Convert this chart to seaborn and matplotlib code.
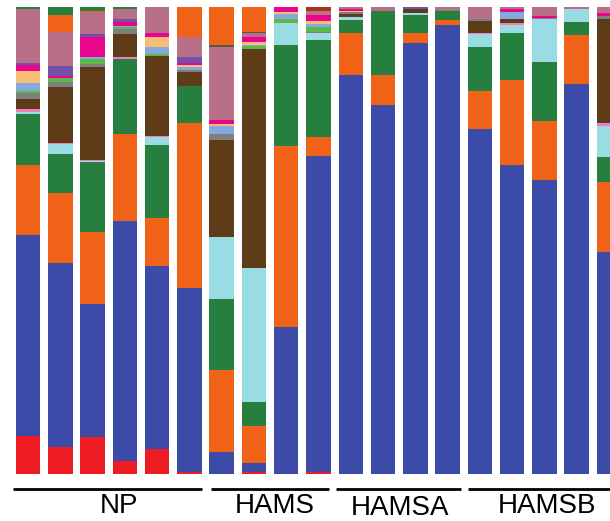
import matplotlib
matplotlib.use("Agg")
import matplotlib.pyplot as plt
import pandas as pd
import seaborn as sns
from matplotlib.transforms import blended_transform_factory

# ---- data -------------------------------------------------------------
samples = ["NP1", "NP2", "NP3", "NP4", "NP5", "NP6",
           "HAMS1", "HAMS2", "HAMS3", "HAMS4",
           "HAMSA1", "HAMSA2", "HAMSA3", "HAMSA4",
           "HAMSB1", "HAMSB2", "HAMSB3", "HAMSB4", "HAMSB5"]
groups = ["NP", "HAMS", "HAMSA", "HAMSB"]
group_sizes = [6, 4, 4, 5]

red     = [8.2, 5.9, 8.0, 2.9, 5.4, 0.6, 0, 0.5, 0, 0.4, 0, 0, 0, 0, 0.1, 0, 0.1, 0, 0]
blue    = [43.0, 39.4, 28.5, 51.1, 39.3, 39.2, 4.8, 1.9, 31.5, 67.7, 85.5, 79.1, 92.3, 96.1, 73.9, 66.1, 63.0, 83.6, 47.5]
orange  = [15.0, 15.0, 15.4, 18.6, 10.3, 35.2, 17.6, 8.0, 38.8, 3.9, 8.9, 6.4, 2.0, 1.1, 8.2, 18.2, 12.5, 10.5, 15.0]
green   = [10.9, 8.4, 14.9, 16.0, 15.6, 7.9, 15.0, 5.1, 21.6, 20.9, 2.8, 13.6, 3.9, 1.9, 9.3, 10.1, 12.7, 2.8, 5.3]
cyan    = [0.4, 2.0, 0.2, 0, 1.6, 0, 13.3, 28.7, 4.6, 1.3, 0.7, 0, 0.5, 0, 2.8, 1.7, 9.2, 2.7, 6.6]
pink    = [0.7, 0.3, 0.4, 0.3, 0.3, 0, 0, 0, 0, 0, 0, 0, 0, 0, 0.2, 0.4, 0, 0, 0.7]
brown   = [2.1, 12.0, 19.9, 4.9, 17.2, 3.0, 20.8, 46.9, 0, 0, 0.7, 0, 0.9, 0, 2.7, 0.9, 0, 0, 22.3]
gray    = [1.3, 1.0, 0.6, 1.1, 0, 0.6, 1.2, 0, 0, 0.3, 0.3, 0.2, 0, 0.3, 0.3, 0, 0.3, 0, 0.5]
ltgreen = [0.4, 0.9, 1.1, 0.4, 0.4, 0, 0.2, 0.6, 0.9, 1.0, 0, 0, 0, 0, 0, 0, 0, 0, 0]
ltblue  = [1.7, 0, 0.4, 0.3, 1.4, 0.6, 1.6, 0.3, 1.1, 0.8, 0, 0, 0, 0, 0, 1.4, 0, 0, 0]
peach   = [2.7, 0, 0, 0, 2.3, 0.4, 0.5, 0.6, 0.5, 0.5, 0.3, 0, 0, 0, 0, 0, 0, 0, 0]
magenta = [1.2, 0.5, 4.3, 0.9, 0.7, 0.3, 0.7, 1.1, 0.9, 1.4, 0.4, 0, 0, 0, 0, 0.7, 0.3, 0, 0.6]
purple  = [0.4, 2.1, 0.6, 0.6, 0, 1.4, 0, 0, 0, 0, 0, 0, 0.3, 0, 0, 0, 0, 0, 0]
mauve   = [11.6, 7.2, 4.7, 2.1, 5.6, 4.2, 15.6, 0.7, 0, 0.9, 0.4, 0.7, 0, 0.5, 2.6, 0.4, 1.9, 0.4, 1.3]
dkgray  = [0, 0, 0, 0, 0, 0, 0.5, 0.4, 0, 0, 0, 0, 0, 0, 0, 0, 0, 0, 0]
orange2 = [0, 3.8, 0.3, 0, 0, 6.4, 8.1, 5.2, 0, 0, 0, 0, 0, 0, 0, 0, 0, 0, 0]
green2  = [0.4, 1.6, 0.7, 0.4, 0, 0, 0, 0, 0, 0, 0, 0, 0, 0, 0, 0, 0, 0, 0]
maroon  = [0, 0, 0, 0, 0, 0, 0, 0, 0, 0.7, 0, 0, 0, 0, 0, 0, 0, 0, 0]

# stacking order, top of bar first (seaborn stacks last hue level at bottom)
series = {
    "maroon": maroon, "green2": green2, "orange2": orange2, "dkgray": dkgray,
    "mauve": mauve, "purple": purple, "magenta": magenta, "peach": peach,
    "ltblue": ltblue, "ltgreen": ltgreen, "gray": gray, "brown": brown,
    "pink": pink, "cyan": cyan, "green": green, "orange": orange,
    "blue": blue, "red": red,
}
colors = {
    "maroon": "#A8321E", "green2": "#267F3E", "orange2": "#EF6218", "dkgray": "#5A5550",
    "mauve": "#B86F88", "purple": "#7251A6", "magenta": "#E9068D", "peach": "#F9BE75",
    "ltblue": "#86A9DD", "ltgreen": "#5CB947", "gray": "#7F7F7F", "brown": "#5E3C18",
    "pink": "#F07FBF", "cyan": "#99DCE3", "green": "#267F3E", "orange": "#EF6218",
    "blue": "#3D4BA8", "red": "#EE1D24",
}

rows = []
for cat, vals in series.items():
    for i, v in enumerate(vals):
        rows.append({"pos": i, "sample": samples[i], "taxon": cat, "value": v})
df = pd.DataFrame(rows)

# ---- plot -------------------------------------------------------------
sns.set_theme(style="white")
plt.rcParams["font.family"] = ["Liberation Sans", "DejaVu Sans"]

fig = plt.figure(figsize=(6.1, 5.21), dpi=100)
ax = fig.add_axes([0, 0.0896, 1, 0.8964])
sns.histplot(data=df, x="pos", weights="value", hue="taxon",
             hue_order=list(series.keys()), palette=colors,
             multiple="fill", discrete=True, shrink=0.76, alpha=1,
             linewidth=0, legend=False, ax=ax)
ax.set_xlim(-0.867, 18.03)
ax.set_ylim(0, 1)
ax.axis("off")

# group bars and labels
trans = blended_transform_factory(ax.transData, ax.transAxes)
line_spans = [(-0.455, 5.38), (5.66, 9.32), (9.54, 13.41), (13.62, 18.6)]
label_x = [2.82, 7.64, 11.53, 16.07]
label_y = [-0.0829, -0.0829, -0.0872, -0.0829]
for name, (x0, x1), lx, ly in zip(groups, line_spans, label_x, label_y):
    ax.plot([x0, x1], [-0.0315, -0.0315], transform=trans, clip_on=False,
            color="black", lw=2.0, solid_capstyle="butt")
    ax.text(lx, ly, name, transform=trans, ha="center", va="baseline",
            fontsize=20, color="black")

fig.savefig("out.png", dpi=100)
